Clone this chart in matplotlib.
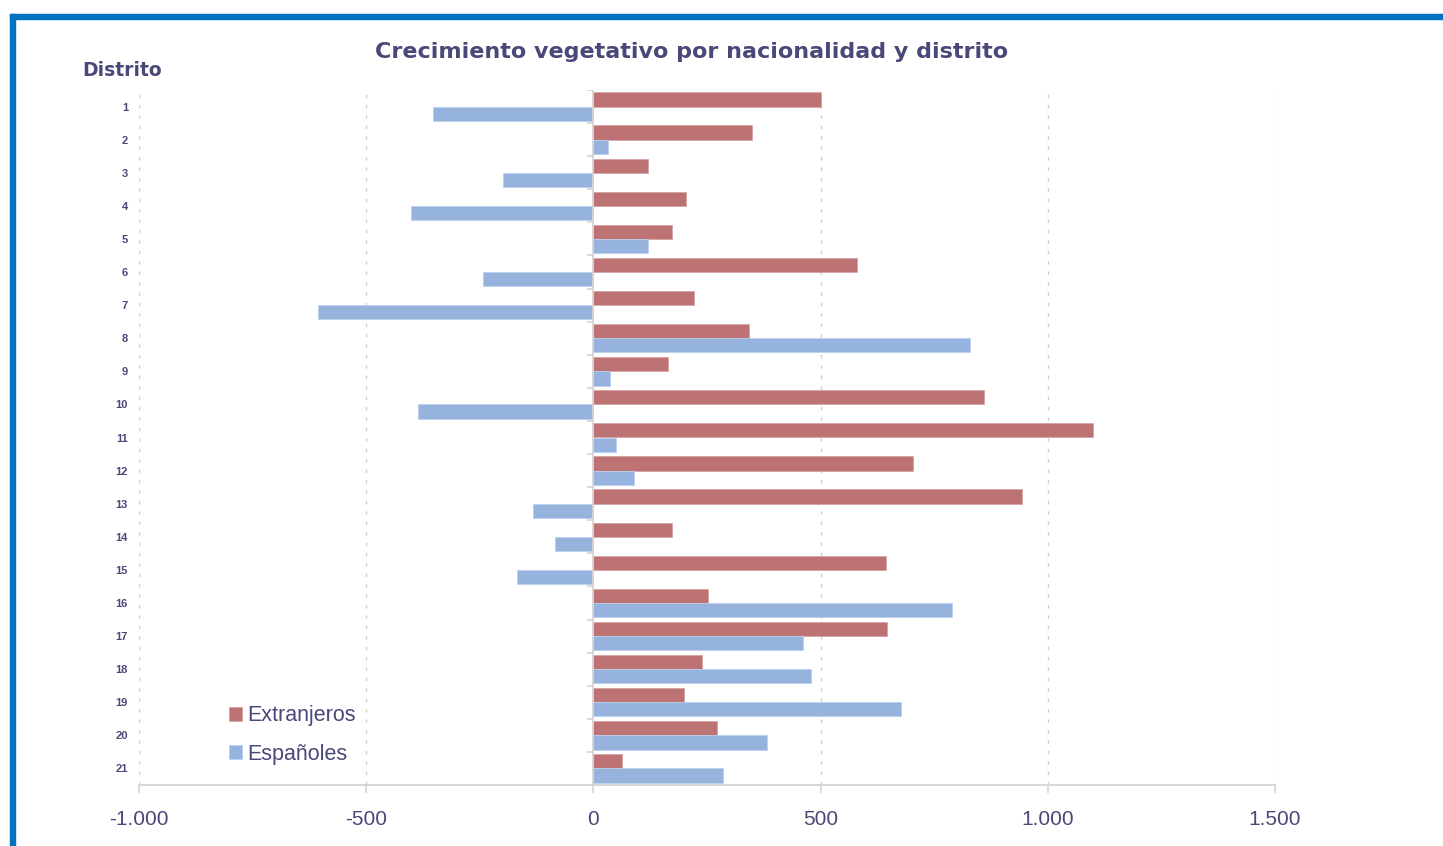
import matplotlib
matplotlib.use("Agg")
import matplotlib.pyplot as plt
from matplotlib.patches import Rectangle
import numpy as np

# ---- data ----
distritos = [str(i) for i in range(1, 22)]
extranjeros = [501, 350, 121, 204, 174, 581, 222, 343, 165, 860, 1099,
               704, 944, 174, 643, 253, 647, 240, 200, 271, 64]
espanoles = [-354, 33, -200, -402, 121, -244, -605, 828, 36, -385, 50,
             90, -134, -85, -169, 789, 462, 479, 678, 381, 285]
xticks = [-1000, -500, 0, 500, 1000, 1500]
xtick_labels = ["-1.000", "-500", "0", "500", "1.000", "1.500"]
title = "Crecimiento vegetativo por nacionalidad y distrito"
ylabel = "Distrito"
series_names = ["Extranjeros", "Españoles"]

# ---- style ----
text_col = "#4a4878"
red = "#BD7373"
blue = "#95B3DD"
grid_col = "#d6cccc"
axis_col = "#d9d2d2"

plt.rcParams['font.family'] = ['Liberation Sans', 'DejaVu Sans']

W, H = 1443, 846
fig = plt.figure(figsize=(W / 100, H / 100), dpi=100)
ax = fig.add_axes([139 / W, 1 - 785 / H, (1275 - 139) / W, (785 - 90) / H])

n = len(distritos)
y = np.arange(1, n + 1)
bh = 0.43
ax.barh(y - bh / 2, extranjeros, height=bh, color=red, edgecolor="#d7a3a3",
        linewidth=0.6, label=series_names[0], zorder=3)
ax.barh(y + bh / 2, espanoles, height=bh, color=blue, edgecolor="#bcd0ec",
        linewidth=0.6, label=series_names[1], zorder=3)

ax.set_xlim(xticks[0], xticks[-1])
ax.set_ylim(n + 0.5, 0.5)

# gridlines (dashed) except at zero
for xv in xticks:
    if xv != 0:
        ax.axvline(xv, color=grid_col, lw=1.0, ls=(0, (2.5, 5)), zorder=1)
# zero axis line with category boundary ticks
ax.axvline(0, color=axis_col, lw=1.3, zorder=4)
bounds = np.arange(0.5, n + 1.5, 1.0)
ax.hlines(bounds, xmin=-14, xmax=0, color=axis_col, lw=1.2, zorder=4)

for s in ["top", "right", "left"]:
    ax.spines[s].set_visible(False)
ax.spines["bottom"].set_color(axis_col)
ax.spines["bottom"].set_linewidth(1.3)

ax.set_xticks(xticks)
ax.set_xticklabels(xtick_labels)
ax.tick_params(axis="x", colors=axis_col, labelcolor=text_col, labelsize=15,
               length=6, width=1.2, pad=12)
ax.set_yticks(y)
ax.set_yticklabels(distritos, fontsize=8, fontweight="bold")
ax.tick_params(axis="y", length=0, pad=8, labelcolor=text_col)

leg = ax.legend(loc="lower left", bbox_to_anchor=(0.061, 0.0), frameon=True,
                facecolor="white", edgecolor="none", framealpha=1,
                fontsize=15.5, handlelength=0.6, handleheight=0.6,
                handletextpad=0.25, labelspacing=0.8, borderpad=0.45)
for t in leg.get_texts():
    t.set_color(text_col)
leg.set_zorder(5)

fig.text(692 / W, 1 - 52 / H, title, ha="center", va="center",
         fontsize=16, fontweight="bold", color=text_col, family="DejaVu Sans")
fig.text(122 / W, 1 - 71 / H, ylabel, ha="center", va="center",
         fontsize=13.5, fontweight="bold", color=text_col, family="DejaVu Sans")

# outer blue frame (top and left)
fig.add_artist(Rectangle((10 / W, 0), 5 / W, 1 - 14 / H, transform=fig.transFigure,
                         color="#0072C0", zorder=0))
fig.add_artist(Rectangle((10 / W, 1 - 19 / H), 1 - 10 / W, 5 / H,
                         transform=fig.transFigure, color="#0072C0", zorder=0))

fig.savefig("out.png", dpi=100)
